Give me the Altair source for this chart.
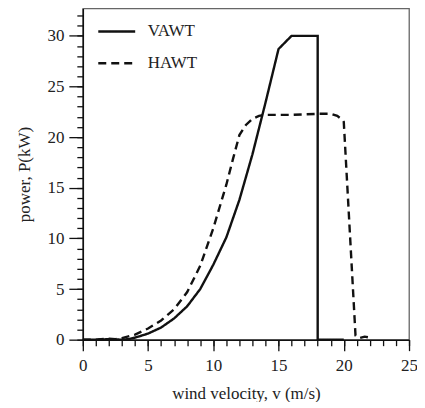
import altair as alt
import pandas as pd

# VAWT power curve (kW) vs wind velocity (m/s)
vawt_v = [0, 1, 2, 3, 3.5, 4, 5, 6, 7, 8, 9, 10, 11, 12, 13, 14, 15, 16, 18, 18, 20]
vawt_p = [0, 0, 0.05, 0, 0.05, 0.2, 0.6, 1.2, 2.1, 3.3, 5.0, 7.4, 10.1, 13.8, 18.3, 23.4, 28.7, 30, 30, 0, 0]

# HAWT power curve
hawt_v = [0, 1, 2, 2.5, 3, 4, 5, 6, 7, 8, 9, 10, 11, 11.5, 12, 12.5, 13, 13.5, 14, 15, 16, 17, 18, 19, 19.5, 19.9, 20.0, 20.9, 21.2, 21.6, 22]
hawt_p = [0, 0, 0.1, 0.05, 0.15, 0.5, 1.1, 1.9, 3.0, 4.7, 7.3, 11.0, 15.3, 17.8, 20.2, 21.2, 21.8, 22.1, 22.2, 22.2, 22.2, 22.25, 22.3, 22.3, 22.1, 21.7, 21.5, 0.4, 0.15, 0.3, 0.2]

series = ["VAWT", "HAWT"]
x_major = [0, 5, 10, 15, 20, 25]
y_major = [0, 5, 10, 15, 20, 25, 30]
x_minor = list(range(0, 26))
y_minor = list(range(0, 33))

W, H = 327, 332
FONT = "Liberation Serif"

rows = []
for i, (v, p) in enumerate(zip(vawt_v, vawt_p)):
    rows.append({"v": v, "P": p, "turbine": "VAWT", "i": i})
for i, (v, p) in enumerate(zip(hawt_v, hawt_p)):
    rows.append({"v": v, "P": p, "turbine": "HAWT", "i": i})
df = pd.DataFrame(rows)

xscale = alt.Scale(domain=[0, 25], nice=False, zero=False)
yscale = alt.Scale(domain=[0, 32.7], nice=False, zero=False)

base = alt.Chart(df)

lines = base.mark_line(strokeWidth=2.4, color="#111", clip=False).encode(
    x=alt.X("v:Q", scale=xscale,
            axis=alt.Axis(title="wind velocity, v (m/s)", values=x_major, format="d",
                          tickSize=11, labelPadding=7, titlePadding=12,
                          grid=False, labelFlush=False, orient="bottom")),
    y=alt.Y("P:Q", scale=yscale,
            axis=alt.Axis(title="power, P(kW)", values=y_major, format="d",
                          tickSize=14, labelPadding=5, titlePadding=13, grid=False,
                          orient="left")),
    strokeDash=alt.StrokeDash("turbine:N",
        scale=alt.Scale(domain=series, range=[[1, 0], [8, 5]]),
        legend=alt.Legend(title=None, orient="none", legendX=14, legendY=3,
                          symbolType="stroke", symbolSize=1369, symbolStrokeWidth=2.5,
                          symbolStrokeColor="#111", labelFont=FONT, labelFontSize=17,
                          labelColor="#222", labelOffset=11, rowPadding=4, padding=0)),
    order="i:Q",
    detail="turbine:N",
)

# invisible layer that only carries the minor-tick axes
minor = base.mark_point(opacity=0).encode(
    x=alt.X("v:Q", scale=xscale,
            axis=alt.Axis(title=None, values=x_minor, labels=False, tickSize=6,
                          domain=False, grid=False, orient="bottom")),
    y=alt.Y("P:Q", scale=yscale,
            axis=alt.Axis(title=None, values=y_minor, labels=False, tickSize=6,
                          domain=False, grid=False, orient="left")),
)

chart = alt.layer(lines, minor).resolve_axis(x="independent", y="independent").properties(
    width=W, height=H,
    autosize=alt.AutoSizeParams(type="none"),
    padding={"left": 75, "top": 0, "right": 8, "bottom": 62},
).configure_view(
    stroke="#666", strokeWidth=1.3
).configure_axis(
    domainColor="#111", domainWidth=1.5, tickColor="#111", tickWidth=1.3,
    labelFont=FONT, labelFontSize=17, labelColor="#222",
    titleFont=FONT, titleFontSize=17, titleFontWeight="normal", titleColor="#222",
)

chart.save("out.html", embed_options={"renderer": "svg", "actions": False})
